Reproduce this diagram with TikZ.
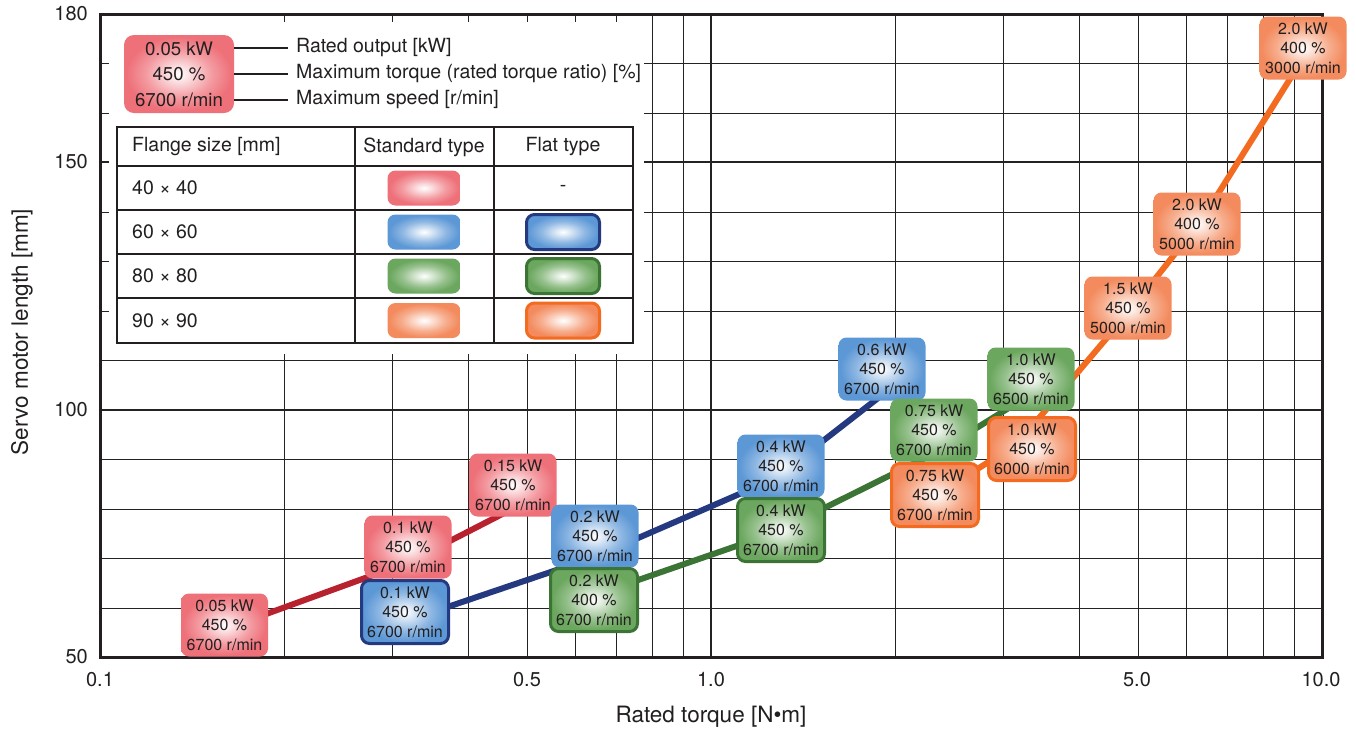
\documentclass[tikz,border=0pt]{standalone}
\usepackage{fontspec}
\setmainfont{TeX Gyre Heros}
\usepackage{tikz}
\usetikzlibrary{positioning}

\definecolor{cText}{RGB}{35,31,32}
\definecolor{cGrid}{RGB}{35,35,35}
\definecolor{cRedFill}{RGB}{238,112,121}
\definecolor{cBlueFill}{RGB}{93,152,214}
\definecolor{cGreenFill}{RGB}{107,167,94}
\definecolor{cOrangeFill}{RGB}{243,139,94}
\definecolor{cRedLine}{RGB}{184,34,46}
\definecolor{cNavy}{RGB}{36,57,127}
\definecolor{cDarkGreen}{RGB}{60,116,54}
\definecolor{cOrangeLine}{RGB}{242,107,33}
\colorlet{glowc}{cRedFill}

% white spot in the middle of each box
\pgfdeclareradialshading[glowc]{glow}{\pgfpoint{0bp}{0bp}}{%
	color(0bp)=(white); color(4bp)=(glowc!18!white); color(15bp)=(glowc!70!white);
	color(24bp)=(glowc); color(50bp)=(glowc)}

\newcommand{\boxfont}{\fontsize{16}{19.5}\selectfont}
\newcommand{\samplefont}{\fontsize{18.6}{25.5}\selectfont}
\newcommand{\legfont}{\fontsize{19.5}{23}\selectfont}
\newcommand{\tickfont}{\fontsize{20}{24}\selectfont}
\newcommand{\titlefont}{\fontsize{22.5}{27}\selectfont}

\tikzset{
	box/.style = {shape = rectangle, rounded corners = 8pt, minimum width = 87pt, minimum height = 63pt, inner sep = 0pt, align = center, font = \boxfont, text = cText},
	stdbox/.style = {box, /utils/exec = {\colorlet{glowc}{#1}}, shading = glow},
	flatbox/.style 2 args = {box, /utils/exec = {\colorlet{glowc}{#1}}, shading = glow, draw = #2, line width = 3pt},
	swatch/.style = {minimum width = 73pt, minimum height = 35pt},
	series/.style = {line width = 6pt, draw = #1, line join = round},
	gridline/.style = {draw = cGrid, line width = 1.5pt},
	majorline/.style = {draw = cGrid, line width = 2.8pt},
	legtext/.style = {font = \legfont, text = cText, inner sep = 0pt},
	ticktext/.style = {font = \tickfont, text = cText, inner sep = 0pt},
}

\begin{document}
\begin{tikzpicture}
[
	x	= 1pt,	% one unit is one pixel of the reference
	y	= -1pt,	% counted downwards, as in the reference
]

{
	\useasboundingbox (0,0) rectangle (1356,732);

	% grid declaration
	\foreach \d in {0,1}
		\foreach \m in {2,...,9}
			\draw [gridline] ({round(100+611*(\d+log10(\m)))+0.5},14) -- ++(0,643);
	\foreach \L in {60,70,...,170}
		\draw [gridline] (100,{round(657-4.946*(\L-50))+0.5}) -- ++(1222,0);
	\draw [majorline] (711,14) -- ++(0,643);
	\draw [majorline] (100,410) -- ++(1222,0);
	\draw [majorline] (100,162) -- ++(1222,0);

	\fill [white] (109,22) rectangle (644,354);
	\draw [draw = cText, line width = 3pt] (100,14) rectangle (1322,657);

	% axes labels
	\node (nY180) [ticktext, anchor = east] at (88,14) {180};
	\node (nY150) [ticktext, anchor = east] at (88,162) {150};
	\node (nY100) [ticktext, anchor = east] at (88,410) {100};
	\node (nY50) [ticktext, anchor = east] at (88,657) {50};
	\node (nX01) [ticktext] at (100,680) {0.1};
	\node (nX05) [ticktext] at (527,680) {0.5};
	\node (nX1) [ticktext] at (711,680) {1.0};
	\node (nX5) [ticktext] at (1137,680) {5.0};
	\node (nX10) [ticktext] at (1321,680) {10.0};
	\node (nXTitle) [font = \titlefont, text = cText] at (711,717) {Rated torque [N•m]};
	\node (nYTitle) [font = \titlefont, text = cText, rotate = 90] at (22,332) {Servo motor length [mm]};

	% data points
	\coordinate (pR1) at (225,629);
	\coordinate (pR2) at (409,562);
	\coordinate (pR3) at (516,507);
	\coordinate (pB1) at (409,620);
	\coordinate (pB2) at (592,558);
	\coordinate (pB3) at (774,479);
	\coordinate (pB4) at (882,395);
	\coordinate (pG1) at (592,596);
	\coordinate (pG2) at (774,533);
	\coordinate (pG3) at (941,450);
	\coordinate (pG4) at (1020,401);
	\coordinate (pO1) at (941,492);
	\coordinate (pO2) at (1017,444);
	\coordinate (pO3) at (1128,313);
	\coordinate (pO4) at (1201,221);
	\coordinate (pO5) at (1305,55);

	% edges declaration
	\draw [series = cRedLine] (pR1) -- (pR2) -- (pR3);
	\draw [series = cNavy] (pB1) -- (pB2) -- (pB3) -- (pB4);
	\draw [series = cDarkGreen] (pG1) -- (pG2) -- (pG3) -- (pG4);
	\draw [series = cOrangeLine] (pO1) -- (pO2) -- (pO3) -- (pO4) -- (pO5);

	% nodes declaration
	\node (nR005) [stdbox = cRedFill] at (224.5,625) {0.05 kW\\450 \%\\6700 r/min};
	\node (nR01) [stdbox = cRedFill] at (408,547) {0.1 kW\\450 \%\\6700 r/min};
	\node (nR015) [stdbox = cRedFill] at (513,485) {0.15 kW\\450 \%\\6700 r/min};

	\node (nB02) [stdbox = cBlueFill] at (595,536) {0.2 kW\\450 \%\\6700 r/min};
	\node (nB04) [stdbox = cBlueFill] at (781,466) {0.4 kW\\450 \%\\6700 r/min};
	\node (nB06) [stdbox = cBlueFill] at (882,369) {0.6 kW\\450 \%\\6700 r/min};
	\node (nB01) [flatbox = {cBlueFill}{cNavy}] at (405,612) {0.1 kW\\450 \%\\6700 r/min};

	\node (nG075) [stdbox = cGreenFill] at (934,430) {0.75 kW\\450 \%\\6700 r/min};
	\node (nG10) [stdbox = cGreenFill] at (1031,379) {1.0 kW\\450 \%\\6500 r/min};
	\node (nG02) [flatbox = {cGreenFill}{cDarkGreen}] at (594,600) {0.2 kW\\400 \%\\6700 r/min};
	\node (nG04) [flatbox = {cGreenFill}{cDarkGreen}] at (781,530) {0.4 kW\\450 \%\\6700 r/min};

	\node (nO15) [stdbox = cOrangeFill] at (1128,308) {1.5 kW\\450 \%\\5000 r/min};
	\node (nO20a) [stdbox = cOrangeFill] at (1197,224) {2.0 kW\\400 \%\\5000 r/min};
	\node (nO20b) [stdbox = cOrangeFill] at (1303,48) {2.0 kW\\400 \%\\3000 r/min};
	\node (nO075) [flatbox = {cOrangeFill}{cOrangeLine}] at (935,495) {0.75 kW\\450 \%\\6700 r/min};
	\node (nO10) [flatbox = {cOrangeFill}{cOrangeLine}] at (1032,449) {1.0 kW\\450 \%\\6000 r/min};

	% legend declaration
	\node (nSample) [stdbox = cRedFill, minimum width = 110pt, minimum height = 78pt, rounded corners = 10pt, font = \samplefont] at (179,74) {0.05 kW\\450 \%\\6700 r/min};
	\node (lOutput) [legtext, anchor = west] at (296,48) {Rated output [kW]};
	\node (lTorque) [legtext, anchor = west] at (296,74) {Maximum torque (rated torque ratio) [\%]};
	\node (lSpeed) [legtext, anchor = west] at (296,100) {Maximum speed [r/min]};
	\draw [draw = cText, line width = 1.2pt] (nSample.east |- lOutput.west) -- ([xshift = -8pt]lOutput.west);
	\draw [draw = cText, line width = 1.2pt] (nSample.east |- lTorque.west) -- ([xshift = -8pt]lTorque.west);
	\draw [draw = cText, line width = 1.2pt] (nSample.east |- lSpeed.west) -- ([xshift = -8pt]lSpeed.west);

	% table declaration
	\draw [draw = cText, line width = 1.2pt] (355,127) -- (355,343);
	\draw [draw = cText, line width = 1.2pt] (494,127) -- (494,343);
	\foreach \r in {166,210,254,298}
		\draw [draw = cText, line width = 1.2pt] (117,\r) -- (633,\r);
	\draw [draw = cText, line width = 2.6pt] (117,127) rectangle (633,343);

	\node (tFlange) [legtext, anchor = west] at (132,147) {Flange size [mm]};
	\node (tStd) [legtext] at (424,147) {Standard type};
	\node (tFlat) [legtext] at (563,147) {Flat type};
	\node (t40) [legtext, anchor = west] at (132,188) {40 × 40};
	\node (t60) [legtext, anchor = west] at (132,232) {60 × 60};
	\node (t80) [legtext, anchor = west] at (132,276) {80 × 80};
	\node (t90) [legtext, anchor = west] at (132,320.5) {90 × 90};

	\node (s40std) [stdbox = cRedFill, swatch] at (424,188) {};
	\node (s40flat) [legtext] at (563,188) {-};
	\node (s60std) [stdbox = cBlueFill, swatch] at (424,232) {};
	\node (s60flat) [flatbox = {cBlueFill}{cNavy}, swatch] at (563,232) {};
	\node (s80std) [stdbox = cGreenFill, swatch] at (424,276) {};
	\node (s80flat) [flatbox = {cGreenFill}{cDarkGreen}, swatch] at (563,276) {};
	\node (s90std) [stdbox = cOrangeFill, swatch] at (424,320.5) {};
	\node (s90flat) [flatbox = {cOrangeFill}{cOrangeLine}, swatch] at (563,320.5) {};
}

\end{tikzpicture}
\end{document}
